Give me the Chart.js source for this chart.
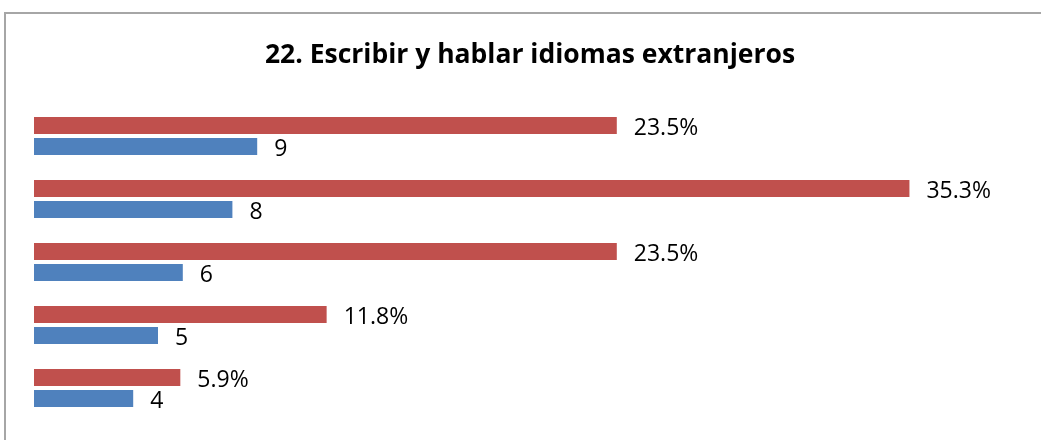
<!DOCTYPE html>
<html>
<head>
<meta charset="utf-8">
<script src="https://cdn.jsdelivr.net/npm/chart.js@4"></script>
<style>
  html, body { margin: 0; padding: 0; background: #fff; }
  #wrap { position: relative; width: 1041px; height: 440px; overflow: hidden; }
  #frame { position: absolute; left: 4px; top: 12px; width: 1100px; height: 500px; border: 2px solid #a6a6a6; box-sizing: border-box; }
  canvas { position: absolute; left: 0; top: 0; }
</style>
</head>
<body>
<div id="wrap">
  <div id="frame"></div>
  <canvas id="chart" width="1041" height="440"></canvas>
</div>
<script>
const titleText = "22. Escribir y hablar idiomas extranjeros";
const categories = ["9", "8", "6", "5", "4"];
const percentValues = [23.5, 35.3, 23.5, 11.8, 5.9];
const scoreValues = [9, 8, 6, 5, 4];

const labelFont = "23px 'Open Sans'";

// draws the value next to the end of each bar
const barLabels = {
  id: "barLabels",
  afterDatasetsDraw(chart) {
    const ctx = chart.ctx;
    ctx.save();
    ctx.font = labelFont;
    ctx.fillStyle = "#000";
    ctx.textBaseline = "middle";
    ctx.textAlign = "left";
    chart.data.datasets.forEach((ds, i) => {
      const meta = chart.getDatasetMeta(i);
      meta.data.forEach((bar, j) => {
        let txt = ds.data[j];
        if (ds.isPercent) {
          txt = ds.data[j].toFixed(1) + "%";
        }
        ctx.fillText(txt, bar.x + 17, bar.y + 2.5);
      });
    });
    ctx.restore();
  },
};

new Chart(document.getElementById("chart"), {
  type: "bar",
  data: {
    labels: categories,
    datasets: [
      {
        label: "Porcentaje",
        data: percentValues,
        isPercent: true,
        backgroundColor: "#C0504D",
        categoryPercentage: 0.667,
        barPercentage: 0.81,
      },
      {
        label: "Valor",
        data: scoreValues,
        isPercent: false,
        backgroundColor: "#4F81BD",
        categoryPercentage: 0.667,
        barPercentage: 0.81,
      },
    ],
  },
  options: {
    indexAxis: "y",
    responsive: false,
    animation: false,
    layout: { padding: { left: 34, right: 15, top: 0, bottom: 20.5 } },
    scales: {
      x: { display: false, min: 0, max: 40 },
      y: { display: false },
    },
    plugins: {
      legend: { display: false },
      tooltip: { enabled: false },
      title: {
        display: true,
        text: titleText,
        color: "#000",
        font: { family: "'Open Sans'", size: 26.5, weight: "bold", lineHeight: 1.2 },
        padding: { top: 39.5, bottom: 33.2 },
      },
    },
  },
  plugins: [barLabels],
});
</script>
</body>
</html>
